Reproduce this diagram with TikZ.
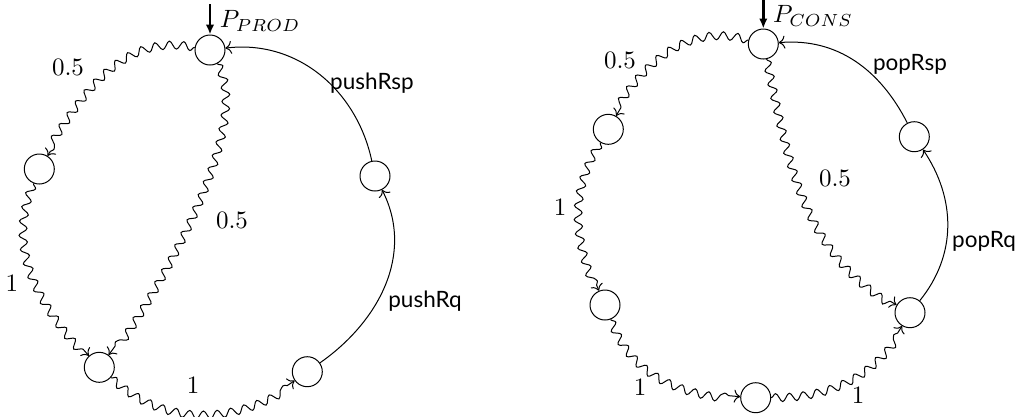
\documentclass[tikz,border=0pt]{standalone}
\usepackage{fontspec}
\newfontfamily\lblfont{Lato}
\usetikzlibrary{decorations.pathmorphing,arrows.meta}
\begin{document}
\begin{tikzpicture}[x=0.4pt,y=0.4pt,
  st/.style={circle,draw,minimum size=12pt,inner sep=0pt,line width=0.4pt},
  wav/.style={->,line width=0.4pt,decorate,decoration={snake,amplitude=1.6pt,segment length=5.6pt,post length=2pt}},
  sol/.style={->,line width=0.4pt},
  act/.style={line width=1pt,-{Latex[length=4pt,width=3.4pt]}},
  lbl/.style={font=\lblfont\fontsize{9}{10}\selectfont},
  num/.style={inner sep=1pt}]
\useasboundingbox (0,0) rectangle (1026,-416);
% left diagram
\node[st] (A) at (210,-50) {};
\node[st] (B) at (39.3,-169) {};
\node[st] (C) at (99.3,-367.3) {};
\node[st] (D) at (307.3,-371.7) {};
\node[st] (E) at (375,-176) {};
\coordinate (pa) at (210,-4);
\draw[act] (pa) -- (A);
\node (pp) at (260,-21) {$P_{PROD}$};
\draw[wav] (A) to[out=170,in=58] (B);
\draw[wav] (B) to[out=248,in=132] (C);
\draw[wav] (C) to[out=-42,in=215] (D);
\draw[wav] (A) to[out=-62,in=53,looseness=0.6] (C);
\draw[sol] (D) to[out=35,in=-63] (E);
\draw[sol] (E) to[out=102,in=7] (A);
\node[num] (l1) at (68,-67) {0.5};
\node[num] (l2) at (232,-220) {0.5};
\node[num] (l3) at (12,-283) {1};
\node[num] (l4) at (193,-385) {1};
\node[lbl] (l5) at (372,-83) {pushRsp};
\node[lbl] (l6) at (425,-301) {pushRq};
% right diagram
\node[st] (F) at (763.3,-44) {};
\node[st] (G) at (608.3,-129.3) {};
\node[st] (H) at (605,-305) {};
\node[st] (I) at (755.7,-397.7) {};
\node[st] (J) at (910,-312.7) {};
\node[st] (K) at (914.3,-136.7) {};
\coordinate (pb) at (763.3,0);
\draw[act] (pb) -- (F);
\node (pq) at (813,-16) {$P_{CONS}$};
\draw[wav] (F) to[out=165,in=60] (G);
\draw[wav] (G) to[out=239,in=113] (H);
\draw[wav] (H) to[out=-69,in=176] (I);
\draw[wav] (I) to[out=0,in=239] (J);
\draw[wav] (F) to[out=-78,in=150] (J);
\draw[sol] (J) to[out=51,in=-56] (K);
\draw[sol] (K) to[out=117,in=5] (F);
\node[num] (r1) at (620,-60) {0.5};
\node[num] (r2) at (835,-178) {0.5};
\node[num] (r3) at (560,-207) {1};
\node[num] (r4) at (640,-387) {1};
\node[num] (r5) at (858,-395) {1};
\node[lbl] (r6) at (910,-64) {popRsp};
\node[lbl] (r7) at (984,-241) {popRq};
\end{tikzpicture}
\end{document}
